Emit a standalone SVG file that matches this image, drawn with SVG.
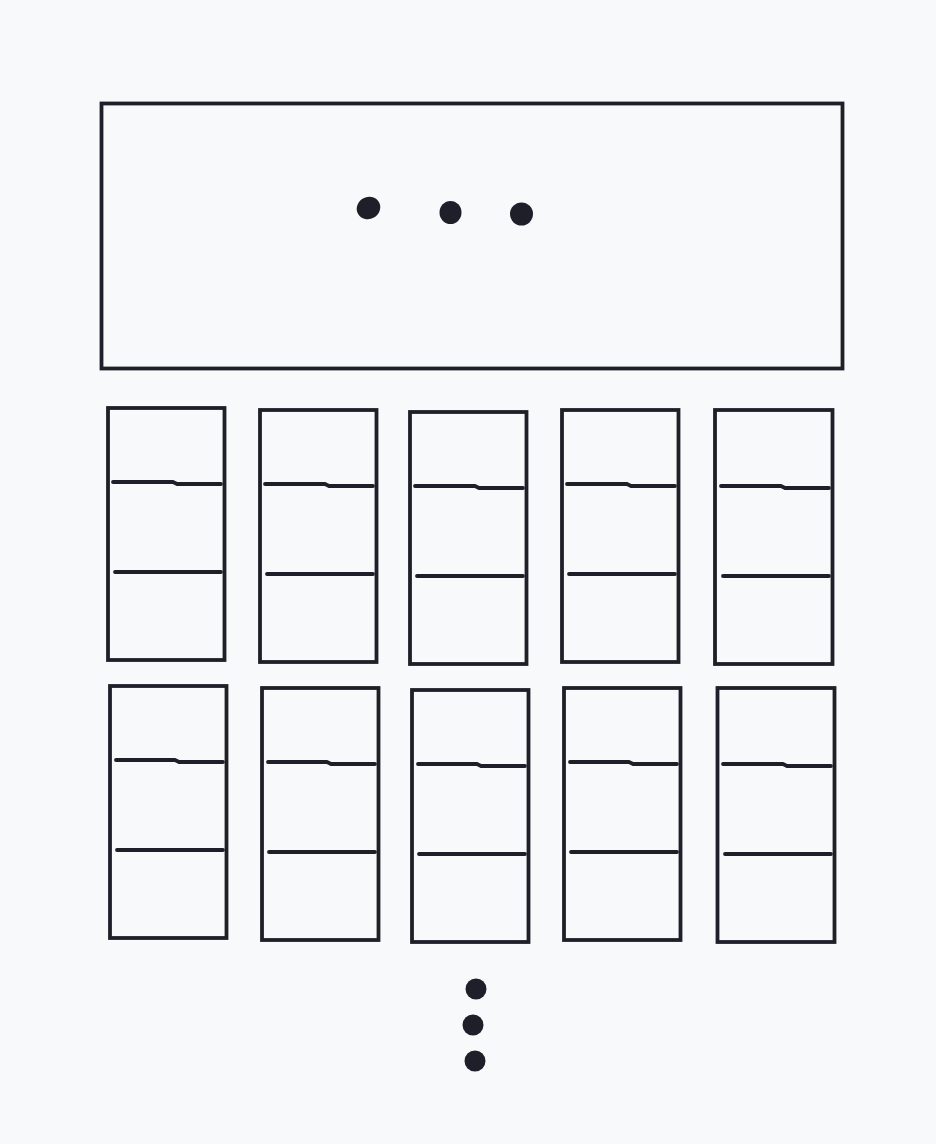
<svg xmlns="http://www.w3.org/2000/svg" width="936" height="1144" viewBox="0 0 936 1144">
<style>
.box{fill:none;stroke:#1e1f28;stroke-width:3.8}
.ln{fill:none;stroke:#1e1f28;stroke-width:3.8;stroke-linecap:round;stroke-linejoin:round}
.dot{fill:#1e1f28}
</style>
<rect width="936" height="1144" fill="#f8f9fb"/>
<g id="top">
<rect class="box" x="101.5" y="103.5" width="741" height="265"/>
<ellipse class="dot" cx="368.5" cy="208" rx="12" ry="11" transform="rotate(-30 368.5 208)"/>
<ellipse class="dot" cx="450.5" cy="212.5" rx="11" ry="11.5"/>
<ellipse class="dot" cx="521.5" cy="214" rx="11.5" ry="11.5"/>
</g>
<g id="c1"><rect class="box" x="108" y="408" width="116.5" height="252"/><path class="ln" d="M113 482H173L177 484H221M115 572H221"/></g>
<g id="c2"><rect class="box" x="260" y="410" width="116.5" height="252"/><path class="ln" d="M265 484H325L329 486H373M267 574H373"/></g>
<g id="c3"><rect class="box" x="410" y="412" width="116.5" height="252"/><path class="ln" d="M415 486H475L479 488H523M417 576H523"/></g>
<g id="c4"><rect class="box" x="562" y="410" width="116.5" height="252"/><path class="ln" d="M567 484H627L631 486H675M569 574H675"/></g>
<g id="c5"><rect class="box" x="715" y="410" width="117.5" height="254"/><path class="ln" d="M721 486H781L785 488H829M723 576H829"/></g>
<g id="c6"><rect class="box" x="110" y="686" width="116.5" height="252"/><path class="ln" d="M116 760H175L179 762H223M117 850H223"/></g>
<g id="c7"><rect class="box" x="262" y="688" width="116.5" height="252"/><path class="ln" d="M268 762H327L331 764H375M269 852H375"/></g>
<g id="c8"><rect class="box" x="412" y="690" width="116.5" height="252"/><path class="ln" d="M418 764H477L481 766H525M419 854H525"/></g>
<g id="c9"><rect class="box" x="564" y="688" width="116.5" height="252"/><path class="ln" d="M570 762H629L633 764H677M571 852H677"/></g>
<g id="c10"><rect class="box" x="717.5" y="688" width="117" height="254"/><path class="ln" d="M723 764H783L787 766H831M725 854H831"/></g>
<g id="more">
<circle class="dot" cx="476" cy="989" r="10.5"/>
<circle class="dot" cx="473" cy="1025" r="10.5"/>
<circle class="dot" cx="475" cy="1061" r="10.5"/>
</g>
<g id="connectors"></g>
</svg>
